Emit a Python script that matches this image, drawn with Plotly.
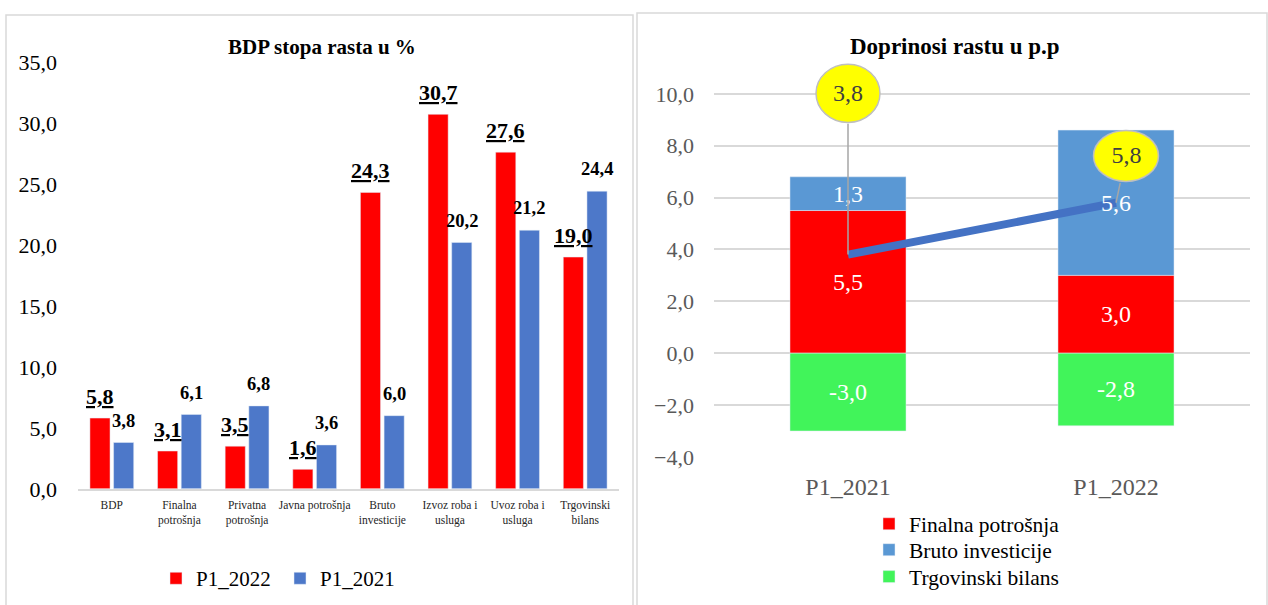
import plotly.graph_objects as go

W, H = 1268, 605

# ---- Left chart data ----
categories = ["BDP", "Finalna<br>potrošnja", "Privatna<br>potrošnja", "Javna potrošnja",
              "Bruto<br>investicije", "Izvoz roba i<br>usluga", "Uvoz roba i<br>usluga",
              "Trgovinski<br>bilans"]
p1_2022 = [5.8, 3.1, 3.5, 1.6, 24.3, 30.7, 27.6, 19.0]
p1_2021 = [3.8, 6.1, 6.8, 3.6, 6.0, 20.2, 21.2, 24.4]
left_ticks = [0, 5, 10, 15, 20, 25, 30, 35]

# ---- Right chart data ----
periods = ["P1_2021", "P1_2022"]
finalna = [5.5, 3.0]
bruto = [1.3, 5.6]
trgovinski = [-3.0, -2.8]
bdp_growth = [3.8, 5.8]
right_ticks = [-4, -2, 0, 2, 4, 6, 8, 10]

FONT = "Liberation Serif, Times New Roman, serif"
RED = "#FF0000"
BLUE_L = "#4D78C9"
BLUE_R = "#5A98D4"
GREEN = "#41F45A"
GRID = "#D9D9D9"

# vertical calibration of the photographed page
VA, VB = 0.961, 12.0


def fmt(v):
    return f"{v:.1f}".replace(".", ",")


def px(x):
    return x / W


def py(y):
    return 1 - ((y - VB) / VA) / H


def vpx(d):
    return d / VA


fig = go.Figure()

# Left chart bars
fig.add_trace(go.Bar(x=categories, y=p1_2022, name="P1_2022", marker_color=RED,
                     xaxis="x", yaxis="y", legend="legend"))
fig.add_trace(go.Bar(x=categories, y=p1_2021, name="P1_2021", marker_color=BLUE_L,
                     xaxis="x", yaxis="y", legend="legend2"))

# Right chart stacked bars (stacking via base)
bar_w = 0.433
txtfont = dict(family=FONT, size=24, color="white")
fig.add_trace(go.Bar(x=periods, y=finalna, name="Finalna potrošnja", marker_color=RED,
                     base=[0] * len(finalna), width=bar_w, offsetgroup="s",
                     text=[fmt(v) for v in finalna], textposition="inside",
                     insidetextanchor="middle", constraintext="none", textfont=txtfont,
                     xaxis="x2", yaxis="y2", legend="legend3"))
fig.add_trace(go.Bar(x=periods, y=bruto, name="Bruto investicije", marker_color=BLUE_R,
                     base=finalna, width=bar_w, offsetgroup="s",
                     xaxis="x2", yaxis="y2", legend="legend4"))
fig.add_trace(go.Bar(x=periods, y=trgovinski, name="Trgovinski bilans", marker_color=GREEN,
                     base=[0] * len(trgovinski), width=bar_w, offsetgroup="s",
                     text=[fmt(v) for v in trgovinski], textposition="inside",
                     insidetextanchor="middle", constraintext="none", textfont=txtfont,
                     xaxis="x2", yaxis="y2", legend="legend5"))

# GDP growth line
fig.add_trace(go.Scatter(x=periods, y=bdp_growth, mode="lines",
                         line=dict(color="#4472C4", width=8), showlegend=False,
                         xaxis="x2", yaxis="y2", hoverinfo="skip"))

annotations = []
shapes = []

# Left value labels
for c, a, b in zip(categories, p1_2022, p1_2021):
    annotations.append(dict(x=c, y=a, xref="x", yref="y", xshift=-11.8, yshift=vpx(21),
                            text=f"<b><u>{fmt(a)}</u></b>", showarrow=False,
                            font=dict(family=FONT, size=22, color="black")))
    annotations.append(dict(x=c, y=b, xref="x", yref="y", xshift=11.8, yshift=vpx(21),
                            text=f"<b>{fmt(b)}</b>", showarrow=False,
                            font=dict(family=FONT, size=18.5, color="black")))

# Bruto investicije labels (drawn above the line, as in the original)
for p, f, b in zip(periods, finalna, bruto):
    annotations.append(dict(x=p, y=f + b / 2, xref="x2", yref="y2", showarrow=False,
                            text=fmt(b), font=dict(family=FONT, size=24, color="white")))

# Callouts for GDP growth
callout_off = [(0, 155, 32, 28), (10, 45, 32.5, 24.5)]
for p, v, (dx, dy, rx, ry) in zip(periods, bdp_growth, callout_off):
    dyp, ryp = vpx(dy), vpx(ry)
    shapes.append(dict(type="circle", xref="x2", yref="y2", xsizemode="pixel",
                       ysizemode="pixel", xanchor=p, yanchor=v,
                       x0=dx - rx, x1=dx + rx, y0=dyp - ryp, y1=dyp + ryp,
                       fillcolor="#FFFF00", line=dict(color="#BFBFBF", width=1.5),
                       layer="above"))
    annotations.append(dict(x=p, y=v, xref="x2", yref="y2", ax=dx, ay=-dyp,
                            showarrow=True, arrowhead=0, arrowwidth=1.5,
                            arrowcolor="#A6A6A6", text=fmt(v),
                            width=2 * rx, height=2 * ryp,
                            font=dict(family=FONT, size=24, color="#404040")))

# Titles
annotations.append(dict(x=px(322), y=py(47), xref="paper", yref="paper",
                        xanchor="center", yanchor="middle",
                        text="<b>BDP stopa rasta u %</b>", showarrow=False,
                        font=dict(family=FONT, size=21, color="black")))
annotations.append(dict(x=px(955), y=py(47), xref="paper", yref="paper",
                        xanchor="center", yanchor="middle",
                        text="<b>Doprinosi rastu u p.p</b>", showarrow=False,
                        font=dict(family=FONT, size=23, color="black")))

# Panel borders
shapes.append(dict(type="rect", xref="paper", yref="paper", x0=px(6), x1=px(633),
                   y0=-0.1, y1=py(15), line=dict(color=GRID, width=1.5), layer="below"))
shapes.append(dict(type="rect", xref="paper", yref="paper", x0=px(637), x1=px(1267),
                   y0=-0.1, y1=py(13), line=dict(color=GRID, width=1.5), layer="below"))


def leg(x_text, y_mid, size):
    return dict(orientation="v", x=px(x_text - 40), y=py(y_mid), xanchor="left",
                yanchor="middle", font=dict(family=FONT, size=size, color="black"),
                bgcolor="rgba(0,0,0,0)", borderwidth=0)


fig.update_layout(
    width=W, height=H,
    margin=dict(l=0, r=0, t=0, b=0),
    paper_bgcolor="white", plot_bgcolor="white",
    font=dict(family=FONT, color="black"),
    separators=",.",
    barmode="group", bargap=0.30, bargroupgap=0.15,
    showlegend=True,
    xaxis=dict(domain=[px(78), px(619)], anchor="y", showline=True, linecolor=GRID,
               linewidth=1.5, showgrid=False, ticks="", ticklabelstandoff=5,
               tickfont=dict(family=FONT, size=11.5, color="#262626"), fixedrange=True),
    yaxis=dict(domain=[py(490), py(62)], anchor="x", range=[0, 35], tickvals=left_ticks,
               tickformat=".1f", showgrid=False, zeroline=False, showline=False,
               ticks="", ticklabelstandoff=20,
               tickfont=dict(family=FONT, size=22, color="black")),
    xaxis2=dict(domain=[px(714), px(1250)], anchor="y2", showline=False, showgrid=False,
                ticks="", ticklabelstandoff=13,
                tickfont=dict(family=FONT, size=24, color="#595959")),
    yaxis2=dict(domain=[py(458), py(62.8)], anchor="x2", range=[-4, 11.2],
                tickvals=right_ticks, tickformat=".1f", showgrid=True, gridcolor=GRID,
                gridwidth=1.5, zeroline=True, zerolinecolor=GRID, zerolinewidth=1.5,
                showline=False, ticks="", ticklabelstandoff=19,
                tickfont=dict(family=FONT, size=22, color="#595959")),
    legend=leg(196, 580, 21),
    legend2=leg(320, 580, 21),
    legend3=leg(909, 525, 21.5),
    legend4=leg(909, 551, 21.5),
    legend5=leg(909, 578, 21.5),
    annotations=annotations,
    shapes=shapes,
)

fig.write_html(
    "out.html",
    config={"displayModeBar": False},
    post_script=(
        "document.documentElement.style.margin='0';"
        "document.documentElement.style.padding='0';"
        "document.documentElement.style.overflow='hidden';"
        "document.body.style.margin='0';"
        "document.body.style.padding='0';"
        "document.body.style.overflow='hidden';"
        "var gd=document.getElementById('{plot_id}');"
        "gd.style.position='fixed';gd.style.left='0px';gd.style.top='0px';"
    ),
)
